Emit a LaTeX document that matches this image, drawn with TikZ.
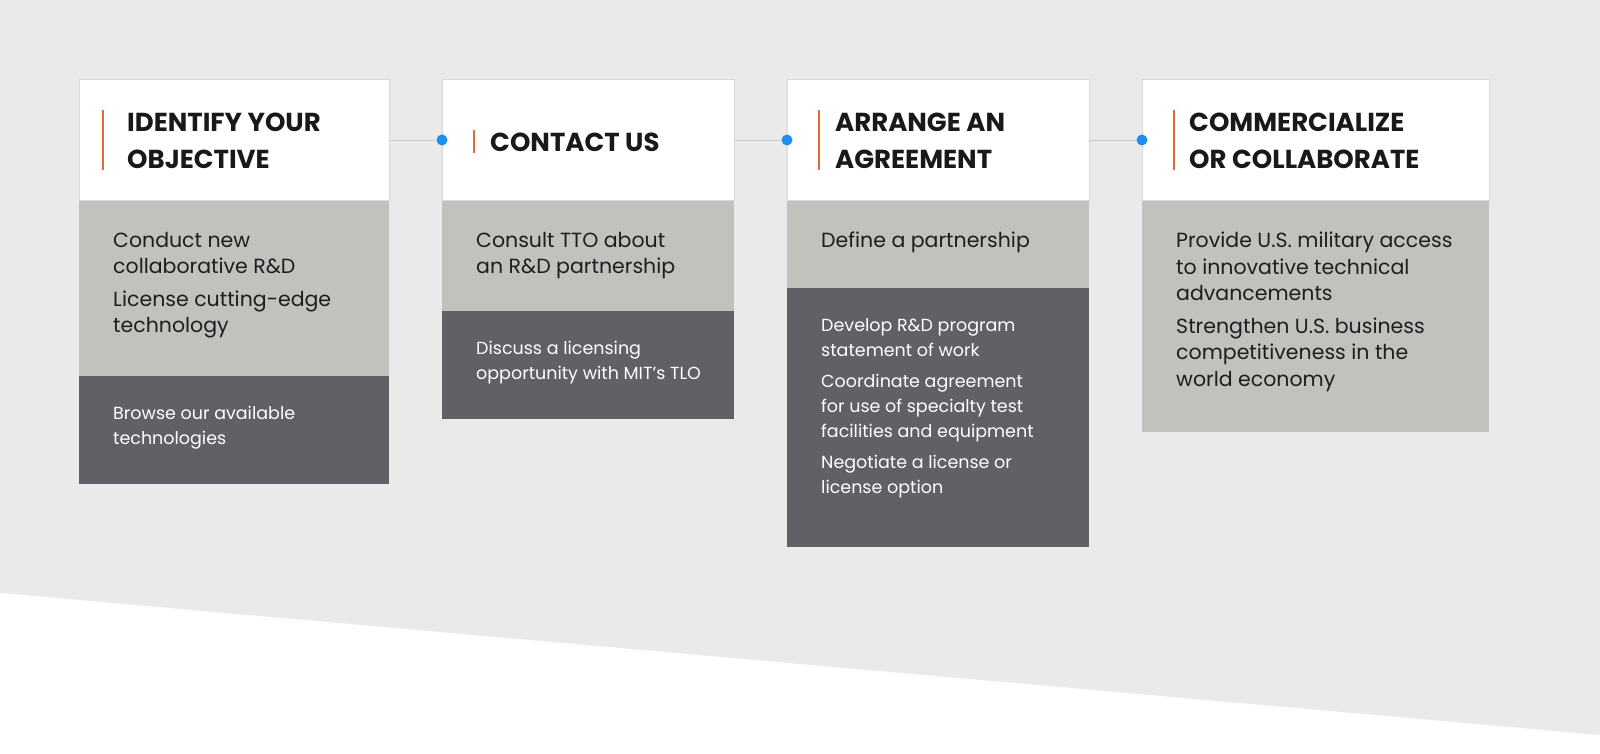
\documentclass[tikz,border=0pt]{standalone}
\usepackage{fontspec}
\setmainfont{Poppins}
\definecolor{bg}{HTML}{EAEAEA}
\definecolor{lgray}{HTML}{C2C1BE}
\definecolor{dgray}{HTML}{5F6167}
\definecolor{orng}{HTML}{E5673A}
\definecolor{dotblue}{HTML}{1E8FF0}
\definecolor{txt}{HTML}{1E1E1E}
\begin{document}
\begin{tikzpicture}[x=1pt,y=-1pt,
  head/.style={fill=white,draw=black!15,line width=0.6pt},
  light/.style={fill=lgray},
  dark/.style={fill=dgray},
  ttl/.style={anchor=west,align=left,font=\fontsize{26}{37}\selectfont\bfseries,text=black!90,inner sep=0pt},
  ltxt/.style={anchor=north west,align=left,font=\fontsize{20.5}{26.5}\selectfont,text=txt,inner sep=0pt},
  dtxt/.style={anchor=north west,align=left,font=\fontsize{17.5}{25}\selectfont,text=white,inner sep=0pt},
  bar/.style={orng,line width=2.4pt},
  conn/.style={draw=black!20,line width=0.6pt},
  dot/.style={circle,fill=dotblue,inner sep=0pt,minimum size=11pt}]
\useasboundingbox (0,0) rectangle (1600,754);
\fill[bg] (0,0) rectangle (1600,754);
\fill[white] (0,593) -- (1600,735) -- (1600,754) -- (0,754) -- cycle;
% box 1
\fill[light] (79,200) rectangle (389,376);
\fill[dark] (79,376) rectangle (389,484);
\draw[head] (79,79) rectangle (389,200);
\coordinate (r1) at (389,140);
\draw[bar] (103,110) -- (103,170);
\node[ttl] (t1) at (127,141) {IDENTIFY YOUR\\OBJECTIVE};
\node[ltxt] (l1) at (113,232) {Conduct new\\collaborative R\&D\\[6pt]License cutting-edge\\technology};
\node[dtxt] (d1) at (113,406) {Browse our available\\technologies};
% box 2
\fill[light] (442,200) rectangle (734,311);
\fill[dark] (442,311) rectangle (734,419);
\draw[head] (442,79) rectangle (734,200);
\coordinate (r2) at (734,140);
\draw[bar] (474,130) -- (474,153);
\node[ttl] (t2) at (490,142) {CONTACT US};
\node[ltxt] (l2) at (476,232) {Consult TTO about\\an R\&D partnership};
\node[dtxt] (d2) at (476,341) {Discuss a licensing\\opportunity with MIT's TLO};
% box 3
\fill[light] (787,200) rectangle (1089,288);
\fill[dark] (787,288) rectangle (1089,547);
\draw[head] (787,79) rectangle (1089,200);
\coordinate (r3) at (1089,140);
\draw[bar] (819,110) -- (819,170);
\node[ttl] (t3) at (835,141) {ARRANGE AN\\AGREEMENT};
\node[ltxt] (l3) at (821,232) {Define a partnership};
\node[dtxt] (d3) at (821,318) {Develop R\&D program\\statement of work\\[6pt]Coordinate agreement\\for use of specialty test\\facilities and equipment\\[6pt]Negotiate a license or\\license option};
% box 4
\fill[light] (1142,200) rectangle (1489,432);
\draw[head] (1142,79) rectangle (1489,200);
\draw[bar] (1174,110) -- (1174,170);
\node[ttl] (t4) at (1189,141) {COMMERCIALIZE\\OR COLLABORATE};
\node[ltxt] (l4) at (1176,232) {Provide U.S. military access\\to innovative technical\\advancements\\[6pt]Strengthen U.S. business\\competitiveness in the\\world economy};
% connectors
\node[dot] (p2) at (442,140) {};
\node[dot] (p3) at (787,140) {};
\node[dot] (p4) at (1142,140) {};
\draw[conn] (r1) -- (p2);
\draw[conn] (r2) -- (p3);
\draw[conn] (r3) -- (p4);
\end{tikzpicture}
\end{document}
